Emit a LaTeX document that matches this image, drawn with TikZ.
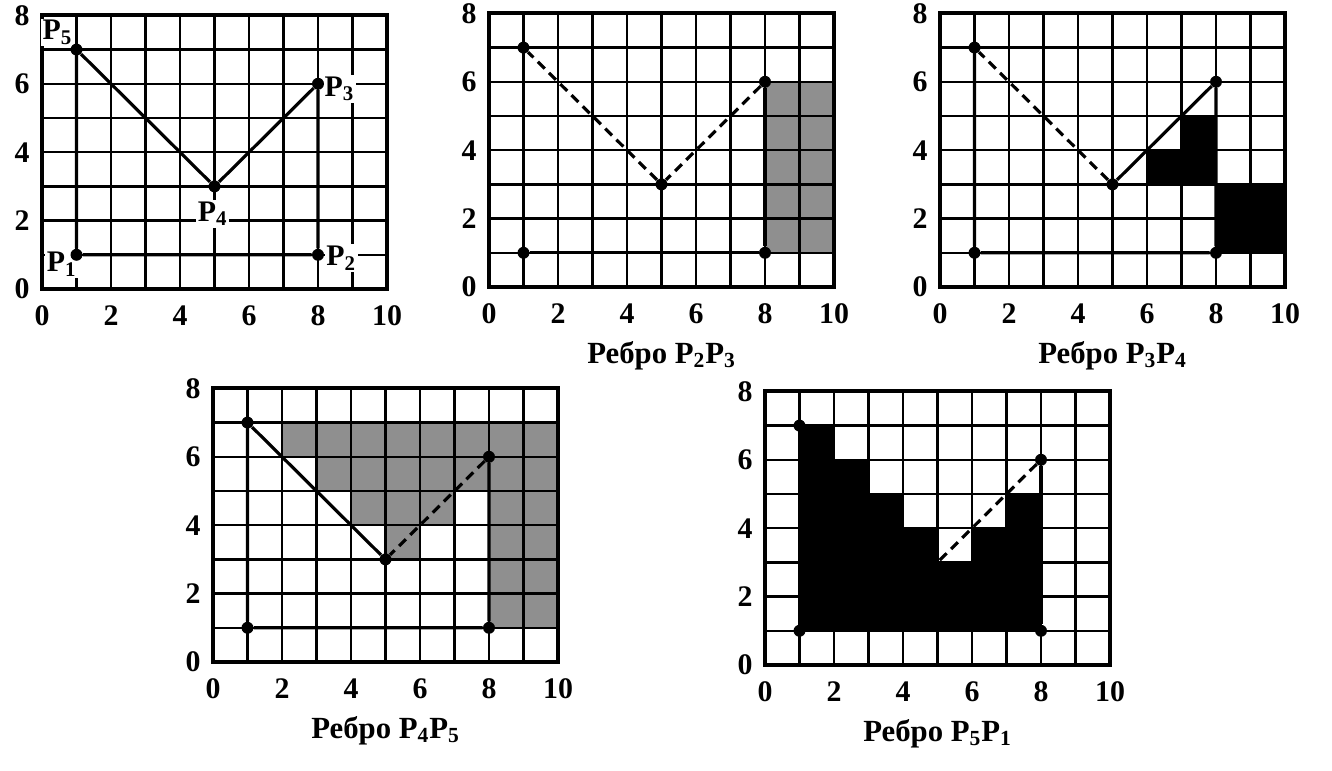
\documentclass[tikz,border=0pt]{standalone}
\usepackage{fontspec}
\setmainfont{Liberation Serif}
\usetikzlibrary{positioning}

% grid, frame and axis numbers of one panel
\newcommand{\panelgrid}{%
  \draw[gridline] (0,0) grid[step={(1,1)}] (10,8);
  \draw[frame] (0,0) rectangle (10,8);
  \foreach \k in {0,2,...,10} \node[tick] (x\k) at (\k,-0.78) {\k};
  \foreach \k in {0,2,...,8} \node[tick] (y\k) at (-0.58,\k) {\k};
}
% the five vertices of the polygon
\newcommand{\polyverts}{%
  \node[vtx] (p1) at (1,1) {};
  \node[vtx] (p2) at (8,1) {};
  \node[vtx] (p3) at (8,6) {};
  \node[vtx] (p4) at (5,3) {};
  \node[vtx] (p5) at (1,7) {};
}

\begin{document}
\begin{tikzpicture}[
    x=0.69cm, y=0.684cm,
    gridline/.style={line width=1.35pt},
    frame/.style={line width=2.3pt},
    edge/.style={line width=1.8pt},
    openedge/.style={edge, dash pattern=on 5.5pt off 3.5pt},
    vtx/.style={circle, fill=black, inner sep=0pt, minimum size=6.8pt},
    tick/.style={font=\fontsize{17}{20}\selectfont\bfseries, inner sep=0pt},
    plabel/.style={font=\fontsize{17}{20}\selectfont\bfseries, fill=white, inner sep=1pt},
    caption/.style={font=\fontsize{17.5}{21}\selectfont\bfseries},
    graycell/.style={fill=black!44},
    blackcell/.style={fill=black}
  ]
  \useasboundingbox (0cm,0cm) rectangle (26.64cm,15.4cm);

  % the polygon
  \begin{scope}[shift={(0.84cm,9.62cm)}, name prefix=a-]
    \panelgrid
    \node[plabel] (l1) at (0.57,0.72) {P\textsubscript{1}};
    \node[plabel] (l2) at (8.67,0.9) {P\textsubscript{2}};
    \node[plabel] (l3) at (8.62,5.85) {P\textsubscript{3}};
    \node[plabel] (l4) at (4.95,2.2) {P\textsubscript{4}};
    \node[plabel] (l5) at (0.45,7.5) {P\textsubscript{5}};
    \polyverts
    \draw[edge] (p1) -- (p2) -- (p3) -- (p4) -- (p5) -- (p1);
  \end{scope}

  % edge P2P3
  \begin{scope}[shift={(9.78cm,9.66cm)}, name prefix=b-]
    \fill[graycell] (8,1) rectangle (10,6);
    \panelgrid
    \polyverts
    \draw[edge] (p5) -- (p1) -- (p2) -- (p3);
    \draw[openedge] (p3) -- (p4) -- (p5);
    \node[caption] (cap) at (5,-2) {Ребро P\textsubscript{2}P\textsubscript{3}};
  \end{scope}

  % edge P3P4
  \begin{scope}[shift={(18.80cm,9.66cm)}, name prefix=c-]
    \fill[blackcell] (6,3) rectangle (8,4) (7,4) rectangle (8,5) (8,1) rectangle (10,3);
    \panelgrid
    \polyverts
    \draw[edge] (p5) -- (p1) -- (p2) -- (p3) -- (p4);
    \draw[openedge] (p4) -- (p5);
    \node[caption] (cap) at (5,-2) {Ребро P\textsubscript{3}P\textsubscript{4}};
  \end{scope}

  % edge P4P5
  \begin{scope}[shift={(4.26cm,2.16cm)}, name prefix=d-]
    \fill[graycell] (2,7) -- (10,7) -- (10,1) -- (8,1) -- (8,5) -- (7,5) -- (7,4) -- (6,4)
      -- (6,3) -- (5,3) -- (5,4) -- (4,4) -- (4,5) -- (3,5) -- (3,6) -- (2,6) -- cycle;
    \panelgrid
    \polyverts
    \draw[edge] (p4) -- (p5) -- (p1) -- (p2) -- (p3);
    \draw[openedge] (p3) -- (p4);
    \node[caption] (cap) at (5,-2) {Ребро P\textsubscript{4}P\textsubscript{5}};
  \end{scope}

  % edge P5P1
  \begin{scope}[shift={(15.30cm,2.10cm)}, name prefix=e-]
    \fill[blackcell] (1,1) -- (8,1) -- (8,5) -- (7,5) -- (7,4) -- (6,4) -- (6,3) -- (5,3)
      -- (5,4) -- (4,4) -- (4,5) -- (3,5) -- (3,6) -- (2,6) -- (2,7) -- (1,7) -- cycle;
    \panelgrid
    \node[vtx] (p1) at (1,1) {};
    \node[vtx] (p2) at (8,1) {};
    \node[vtx] (p3) at (8,6) {};
    \coordinate (p4) at (5,3);
    \node[vtx] (p5) at (1,7) {};
    \draw[edge] (p5) -- (p1) -- (p2) -- (p3);
    \draw[openedge] (p3) -- (p4);
    \node[caption] (cap) at (5,-2) {Ребро P\textsubscript{5}P\textsubscript{1}};
  \end{scope}
\end{tikzpicture}
\end{document}
